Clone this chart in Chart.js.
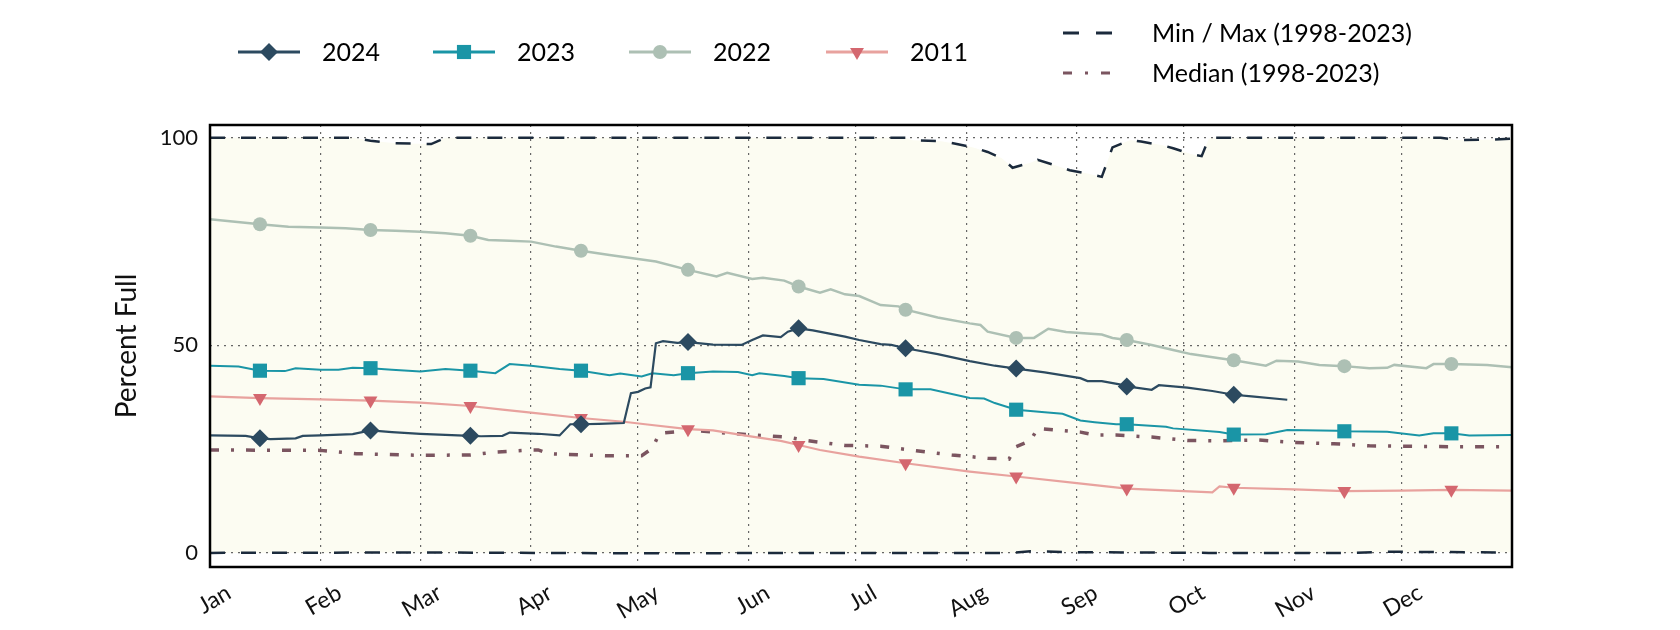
<!DOCTYPE html>
<html>
<head>
<meta charset="utf-8">
<title>Percent Full</title>
<script src="https://cdn.jsdelivr.net/npm/chart.js@4.4.1/dist/chart.umd.min.js"></script>
<style>
  html, body { margin: 0; padding: 0; background: #fff; }
  #wrap { width: 1680px; height: 630px; position: relative; }
</style>
</head>
<body>
<div id="wrap"><canvas id="chart"></canvas></div>
<script>
// Axe des x : jour de l'année
const monthDays = [0, 31, 59, 90, 120, 151, 181, 212, 243, 273, 304, 334];
const monthLabels = ['Jan', 'Feb', 'Mar', 'Apr', 'May', 'Jun', 'Jul', 'Aug', 'Sep', 'Oct', 'Nov', 'Dec'];
const markerDays = [14, 45, 73, 104, 134, 165, 195, 226, 257, 287, 318, 348];
const yTicks = [0, 50, 100];

// 2024
const days2024 = [0, 10, 14, 17, 24, 26, 31, 40, 45, 51, 59, 73, 76, 82, 84, 92, 98, 101, 104, 109, 116, 118, 120, 122, 123.5, 125, 127, 131, 134, 141, 149, 152, 155, 160, 162, 165, 169, 178, 182, 188, 191, 195, 204, 213, 220, 226, 234, 244, 246, 250, 255, 257, 264, 266, 274, 281, 287, 292, 302];
const vals2024 = [28.3, 28.2, 27.6, 27.4, 27.6, 28.2, 28.3, 28.6, 29.5, 29.1, 28.7, 28.2, 28.1, 28.2, 29.0, 28.7, 28.3, 31.0, 31.0, 31.1, 31.3, 38.5, 38.8, 39.6, 39.9, 50.5, 51.0, 50.6, 50.8, 50.2, 50.1, 51.3, 52.4, 52.0, 53.3, 54.1, 53.6, 52.1, 51.3, 50.3, 50.1, 49.3, 47.9, 46.2, 45.1, 44.4, 43.5, 42.1, 41.4, 41.4, 40.6, 40.1, 39.3, 40.4, 39.8, 39.0, 38.1, 37.7, 36.9];

// 2023
const days2023 = [0, 8, 14, 21, 24, 31, 36, 40, 45, 51, 59, 66, 73, 80, 84, 90, 98, 104, 112, 115, 121, 124, 130, 134, 141, 148, 152, 154, 161, 165, 172, 182, 188, 195, 202, 213, 217, 220, 226, 234, 239, 244, 248, 254, 257, 268, 270, 283, 287, 296, 302, 316, 318, 330, 339, 343, 348, 353, 365];
const vals2023 = [45.1, 44.9, 43.9, 43.8, 44.5, 44.1, 44.1, 44.6, 44.5, 44.1, 43.7, 44.3, 43.9, 43.3, 45.5, 45.1, 44.3, 43.9, 42.8, 43.2, 42.5, 43.3, 42.8, 43.3, 43.7, 43.6, 42.8, 43.3, 42.6, 42.1, 41.9, 40.5, 40.3, 39.4, 39.4, 37.3, 37.2, 36.1, 34.5, 33.9, 33.5, 31.9, 31.5, 31.0, 31.0, 30.4, 30.0, 29.1, 28.5, 28.6, 29.6, 29.4, 29.3, 29.2, 28.3, 28.8, 28.8, 28.3, 28.4];

// 2022
const days2022 = [0, 7, 14, 22, 31, 38, 45, 52, 59, 66, 73, 78, 84, 90, 97, 104, 112, 120, 125, 134, 142, 145, 152, 155, 161, 165, 171, 174, 178, 182, 188, 193, 195, 204, 213, 216, 218, 226, 231, 235, 240, 244, 250, 253, 257, 264, 270, 275, 283, 287, 296, 299, 305, 311, 318, 325, 330, 332, 341, 343, 348, 358, 365];
const vals2022 = [80.4, 79.8, 79.2, 78.6, 78.4, 78.2, 77.8, 77.6, 77.4, 77.0, 76.4, 75.4, 75.2, 75.0, 73.8, 72.8, 71.8, 70.8, 70.2, 68.2, 66.6, 67.5, 66.0, 66.3, 65.6, 64.2, 62.7, 63.5, 62.3, 61.9, 59.7, 59.4, 58.6, 56.7, 55.3, 54.9, 53.3, 51.8, 51.8, 54.0, 53.2, 53.0, 52.6, 51.8, 51.3, 50.1, 48.9, 47.9, 46.9, 46.4, 45.1, 46.3, 46.1, 45.3, 45.0, 44.5, 44.6, 45.3, 44.5, 45.5, 45.5, 45.3, 44.7];

// 2011
const days2011 = [0, 14, 31, 45, 59, 73, 82, 90, 104, 116, 122, 134, 141, 152, 160, 165, 171, 182, 195, 213, 226, 243, 257, 273, 281, 283, 287, 304, 318, 334, 348, 365];
const vals2011 = [37.7, 37.3, 37.0, 36.7, 36.2, 35.4, 34.5, 33.8, 32.5, 31.6, 31.0, 29.8, 29.5, 28.0, 27.0, 26.0, 24.8, 23.2, 21.6, 19.6, 18.4, 16.8, 15.5, 14.9, 14.6, 16.0, 15.7, 15.3, 14.9, 15.0, 15.2, 15.0];

// Mediane 1998-2023
const daysMedian = [0, 31, 41, 59, 73, 80, 90, 92, 95, 111, 121, 124, 126, 131, 137, 152, 162, 167, 178, 188, 198, 208, 218, 224, 226, 230, 232, 244, 248, 254, 264, 274, 284, 294, 304, 315, 325, 335, 347, 358, 365];
const valsMedian = [24.8, 24.7, 23.9, 23.5, 23.6, 24.3, 24.8, 24.8, 23.9, 23.4, 23.4, 25.2, 28.8, 29.2, 29.4, 28.4, 27.9, 27.1, 25.9, 25.7, 24.6, 23.6, 22.8, 22.6, 25.6, 27.0, 30.0, 29.1, 28.4, 28.4, 27.9, 27.1, 27.0, 27.2, 26.6, 26.3, 25.8, 25.7, 25.6, 25.6, 25.6];

// Max 1998-2023
const daysMax = [0, 40, 45, 52, 62, 66, 195, 197, 205, 209, 214, 218, 222, 225, 230, 232, 238, 241, 246, 250, 253, 258, 261, 267, 270, 275, 278, 280, 281, 345, 350, 360, 365];
const valsMax = [100, 100, 99.3, 98.7, 98.5, 100, 100, 99.4, 99.2, 98.6, 97.7, 96.6, 95.1, 92.8, 94.0, 94.7, 93.1, 92.2, 91.4, 90.6, 97.7, 99.5, 99.1, 98.2, 97.5, 96.1, 95.6, 99.8, 100, 100, 99.5, 99.6, 99.8];

// Min 1998-2023
const daysMin = [0, 60, 120, 180, 225, 230, 240, 280, 320, 330, 345, 365];
const valsMin = [0, 0.1, -0.1, 0, 0, 0.4, 0.2, 0, 0, 0.3, 0.2, 0.1];

const toPoints = (days, vals) => days.map((d, i) => ({ x: d, y: vals[i] }));
const markerRadius = r => ctx => markerDays.includes(ctx.raw.x) ? r : 0;

const datasets = [
  {
    label: '2024', data: toPoints(days2024, vals2024),
    borderColor: '#2c4a60', backgroundColor: '#2c4a60', borderWidth: 2.2,
    pointStyle: 'rectRot', pointRadius: markerRadius(9), pointBorderWidth: 0
  },
  {
    label: '2023', data: toPoints(days2023, vals2023),
    borderColor: '#1a95a6', backgroundColor: '#1a95a6', borderWidth: 2,
    pointStyle: 'rect', pointRadius: markerRadius(10), pointBorderWidth: 0
  },
  {
    label: '2022', data: toPoints(days2022, vals2022),
    borderColor: '#adc0b4', backgroundColor: '#adc0b4', borderWidth: 2.5,
    pointStyle: 'circle', pointRadius: markerRadius(7), pointBorderWidth: 0
  },
  {
    label: '2011', data: toPoints(days2011, vals2011),
    borderColor: '#e8a29e', backgroundColor: '#d4676f', borderWidth: 2.2,
    pointStyle: 'triangle', pointRotation: 180, pointRadius: markerRadius(8), pointBorderWidth: 0
  },
  {
    label: 'Median (1998-2023)', data: toPoints(daysMedian, valsMedian),
    borderColor: '#7b5560', borderWidth: 3.5, borderDash: [9, 12, 3, 12],
    pointRadius: 0
  },
  {
    label: 'Min / Max (1998-2023)', data: toPoints(daysMax, valsMax),
    borderColor: '#1b2a3c', borderWidth: 2.5, borderDash: [15, 16],
    pointRadius: 0,
    fill: { target: '+1', above: '#fcfcf2', below: '#fcfcf2' }
  },
  {
    label: 'Min', data: toPoints(daysMin, valsMin),
    borderColor: '#1b2a3c', borderWidth: 2.5, borderDash: [15, 16],
    pointRadius: 0
  }
];

// Légende dessinée à la main + cadre noir
const legendPlugin = {
  id: 'customLegend',
  afterDraw(chart) {
    const ctx = chart.ctx;
    const a = chart.chartArea;
    ctx.save();
    ctx.strokeStyle = '#000';
    ctx.lineWidth = 2.5;
    ctx.strokeRect(a.left, a.top, a.right - a.left, a.bottom - a.top);

    ctx.font = '25px Lato';
    ctx.textBaseline = 'middle';
    ctx.textAlign = 'left';

    const row = [[0, 238], [1, 433], [2, 629], [3, 826]];
    row.forEach(([i, x]) => {
      const ds = chart.data.datasets[i];
      const y = 52;
      ctx.setLineDash([]);
      ctx.strokeStyle = ds.borderColor;
      ctx.lineWidth = 3;
      ctx.beginPath(); ctx.moveTo(x, y); ctx.lineTo(x + 62, y); ctx.stroke();
      ctx.fillStyle = ds.backgroundColor;
      Chart.helpers.drawPoint(ctx, {
        pointStyle: ds.pointStyle,
        radius: ds.pointRadius({ raw: { x: markerDays[0] } }),
        rotation: ds.pointRotation || 0,
        borderWidth: 0
      }, x + 31, y);
      ctx.fillStyle = '#000';
      ctx.fillText(ds.label, x + 84, y + 1);
    });

    const right = [[5, 33, [16, 17]], [4, 73, [9, 13, 3, 13]]];
    right.forEach(([i, y, dash]) => {
      const ds = chart.data.datasets[i];
      ctx.setLineDash(dash);
      ctx.strokeStyle = ds.borderColor;
      ctx.lineWidth = 3;
      ctx.beginPath(); ctx.moveTo(1063, y); ctx.lineTo(1112, y); ctx.stroke();
      ctx.setLineDash([]);
      ctx.fillStyle = '#000';
      ctx.fillText(ds.label, 1152, y + 1);
    });
    ctx.restore();
  }
};

Chart.defaults.font.family = 'Lato';
Chart.defaults.color = '#111';

new Chart(document.getElementById('chart'), {
  type: 'line',
  data: { datasets },
  plugins: [legendPlugin],
  options: {
    responsive: true,
    maintainAspectRatio: false,
    animation: false,
    events: [],
    layout: { padding: { top: 125, right: 168, bottom: 0, left: 108 } },
    plugins: {
      legend: { display: false },
      tooltip: { enabled: false },
      filler: { drawTime: 'beforeDraw' }
    },
    elements: { line: { tension: 0 } },
    scales: {
      x: {
        type: 'linear', min: 0, max: 365,
        afterBuildTicks: s => { s.ticks = monthDays.map(v => ({ value: v })); },
        afterFit: s => { s.height = 63; },
        ticks: {
          autoSkip: false, minRotation: 30, maxRotation: 30, padding: 12, labelOffset: 19,
          font: { size: 23 }, color: '#111',
          callback: v => monthLabels[monthDays.indexOf(v)]
        },
        grid: { color: '#666', lineWidth: 1.2, drawTicks: false },
        border: { display: false, dash: [2, 5] }
      },
      y: {
        min: -3.4, max: 103.1,
        afterBuildTicks: s => { s.ticks = yTicks.map(v => ({ value: v })); },
        afterFit: s => { s.width = 102; },
        ticks: { padding: 12, font: { size: 22 }, color: '#111' },
        grid: { color: '#666', lineWidth: 1.2, drawTicks: false },
        border: { display: false, dash: [2, 5] },
        title: { display: true, text: 'Percent Full', font: { size: 28 }, color: '#111', padding: { top: 2, bottom: 0 } }
      }
    }
  }
});
</script>
</body>
</html>
